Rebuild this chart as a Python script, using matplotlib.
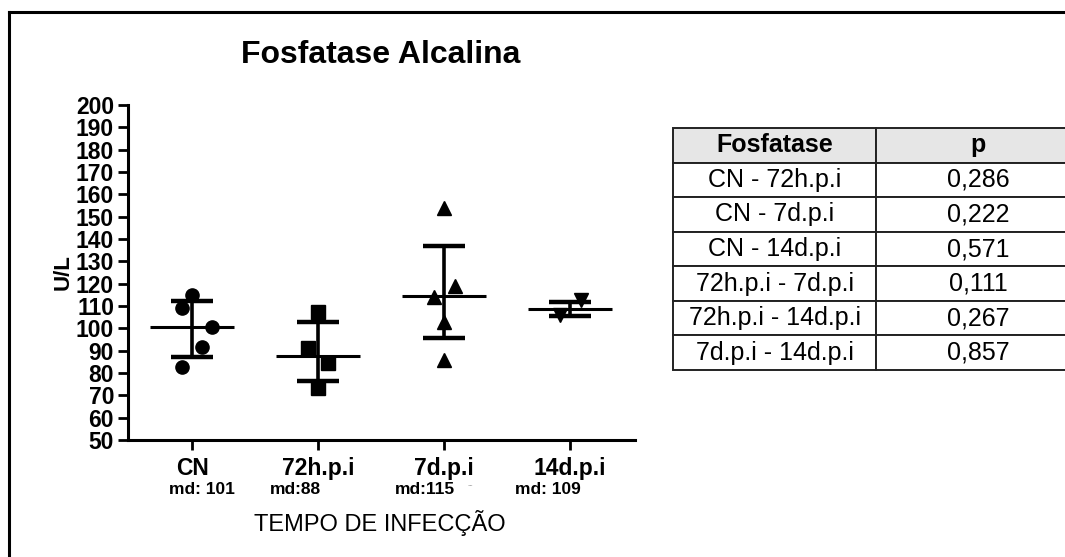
import matplotlib
matplotlib.use("Agg")
import matplotlib.pyplot as plt
from matplotlib.lines import Line2D

plt.rcParams['font.family'] = ['Liberation Sans', 'DejaVu Sans']

# data
groups = ["CN", "72h.p.i", "7d.p.i", "14d.p.i"]
md_labels = ["md: 101", "md:88", "md:115", "md: 109"]
values = [
    [115, 109, 100.4, 91.8, 82.6],
    [107.5, 91, 84.6, 73.4],
    [153.7, 119, 114.2, 103, 85.8],
    [112.7, 106],
]
jitter = [
    [0, -0.08, 0.16, 0.08, -0.08],
    [0, -0.08, 0.08, 0],
    [0, 0.09, -0.08, 0, 0],
    [0.09, -0.08],
]
markers = ["o", "s", "^", "v"]
median_vals = [100.5, 87.8, 114.7, 108.6]
bar_low = [87.3, 76.4, 95.5, 105.7]
bar_high = [112.4, 102.7, 137, 111.6]

comparisons = ["CN - 72h.p.i", "CN - 7d.p.i", "CN - 14d.p.i",
               "72h.p.i - 7d.p.i", "72h.p.i - 14d.p.i", "7d.p.i - 14d.p.i"]
p_values = ["0,286", "0,222", "0,571", "0,111", "0,267", "0,857"]

W, H = 1065, 557
fig = plt.figure(figsize=(W / 100, H / 100), dpi=100)

#scatter plot
ax = fig.add_axes([128 / W, 1 - 440 / H, (635 - 128) / W, (440 - 105) / H])
for i in range(len(groups)):
    xs = [i + d for d in jitter[i]]
    ax.plot(xs, values[i], linestyle="none", marker=markers[i], ms=9.5, color="black")
    ax.hlines(median_vals[i], i - 0.33, i + 0.33, color="black", lw=2.2)
    ax.vlines(i, bar_low[i], bar_high[i], color="black", lw=2.6)
    ax.hlines([bar_low[i], bar_high[i]], i - 0.165, i + 0.165, color="black", lw=3.2)

ax.set_xlim(-0.508, 3.516)
ax.set_ylim(50, 200)
ax.set_yticks(range(50, 201, 10))
ax.set_xticks(range(len(groups)))
ax.set_xticklabels(groups, fontweight="bold", fontsize=16.5)
for lab in ax.get_yticklabels():
    lab.set_fontweight("bold")
ax.tick_params(axis="y", length=7, width=2, pad=3, labelsize=16.5)
ax.tick_params(axis="x", length=7, width=2, pad=5)
for s in ["top", "right"]:
    ax.spines[s].set_visible(False)
for s in ["left", "bottom"]:
    ax.spines[s].set_linewidth(2.2)

fig.text(381 / W, 1 - 55 / H, "Fosfatase Alcalina", fontsize=23, fontweight="bold",
         ha="center", va="center")
fig.text(63 / W, 1 - 272 / H, "U/L", fontsize=16, fontweight="bold", rotation=90,
         ha="center", va="center")
md_x = [202, 295, 425, 548]
for x, t in zip(md_x, md_labels):
    fig.text(x / W, 1 - 490 / H, t, fontsize=12.5, fontweight="bold", ha="center", va="center")
fig.text(470 / W, 1 - 486 / H, "--", fontsize=6, color="#999999", ha="center", va="center")
fig.text(380 / W, 1 - 523 / H, "TEMPO DE INFECÇÃO", fontsize=17, ha="center", va="center")

# frame lines
fig.add_artist(Line2D([9 / W, 1], [1 - 12 / H, 1 - 12 / H], color="black", lw=2.2,
                      transform=fig.transFigure))
fig.add_artist(Line2D([9 / W, 9 / W], [1 - 12 / H, 0], color="black", lw=2.2,
                      transform=fig.transFigure))

# table of p values
tax = fig.add_axes([673 / W, 1 - 370 / H, (1080 - 673) / W, (370 - 128) / H])
tax.axis("off")
cell_text = [[c, p] for c, p in zip(comparisons, p_values)]
tbl = tax.table(cellText=cell_text, colLabels=["Fosfatase", "p"], cellLoc="center",
                bbox=[0, 0, 1, 1], colWidths=[0.499, 0.501])
tbl.auto_set_font_size(False)
tbl.set_fontsize(18)
for (r, c), cell in tbl.get_celld().items():
    cell.set_linewidth(1.4)
    cell.set_edgecolor("#222222")
    if r == 0:
        cell.set_facecolor("#e6e6e6")
        cell.get_text().set_fontweight("bold")

fig.savefig("out.png", dpi=100)
